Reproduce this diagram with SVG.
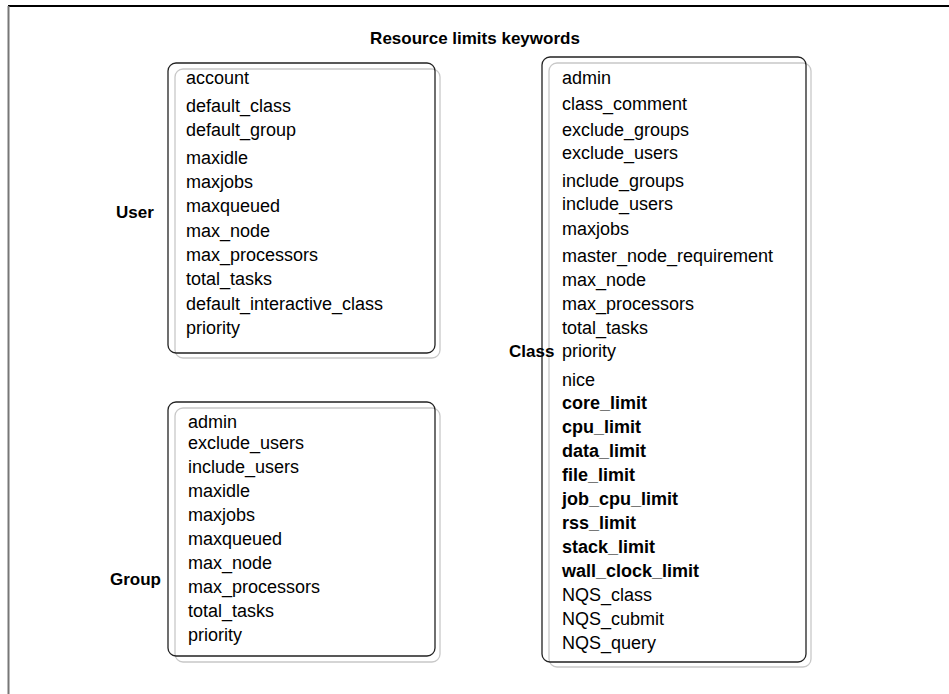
<svg xmlns="http://www.w3.org/2000/svg" width="949" height="694" viewBox="0 0 949 694">
  <style>
    .frame-top { stroke: #000; stroke-width: 2; }
    .frame-left { stroke: #777; stroke-width: 2; }
    .box { fill: none; stroke: #222; stroke-width: 1.3; }
    .shadow { fill: none; stroke: #c8c8c8; stroke-width: 1.3; }
    .title { font-family: "Liberation Sans", Arial, sans-serif; font-size: 17px; font-weight: bold; fill: #000; }
    .label { font-family: "Liberation Sans", Arial, sans-serif; font-size: 17px; font-weight: bold; fill: #000; }
    .item { font-family: "Liberation Sans", Arial, sans-serif; font-size: 18px; fill: #000; }
    .item-b { font-weight: bold; }
  </style>

  <rect width="949" height="694" fill="#fff"/>

  <!-- page frame -->
  <line class="frame-top" x1="8" y1="6" x2="949" y2="6"/>
  <line class="frame-left" x1="8.5" y1="6" x2="8.5" y2="694"/>

  <text class="title" x="475" y="44" text-anchor="middle">Resource limits keywords</text>

  <!-- User keywords -->
  <g id="user">
    <rect class="shadow" x="175" y="69" width="265" height="289" rx="8"/>
    <rect class="box" x="168" y="63" width="267" height="290" rx="8"/>
    <text class="label" x="116" y="218">User</text>
    <text class="item" x="186" y="84">account</text>
    <text class="item" x="186" y="112">default_class</text>
    <text class="item" x="186" y="136">default_group</text>
    <text class="item" x="186" y="164">maxidle</text>
    <text class="item" x="186" y="188">maxjobs</text>
    <text class="item" x="186" y="212">maxqueued</text>
    <text class="item" x="186" y="237">max_node</text>
    <text class="item" x="186" y="261">max_processors</text>
    <text class="item" x="186" y="285">total_tasks</text>
    <text class="item" x="186" y="310">default_interactive_class</text>
    <text class="item" x="186" y="334">priority</text>
  </g>

  <!-- Group keywords -->
  <g id="group">
    <rect class="shadow" x="175" y="408" width="265" height="254" rx="8"/>
    <rect class="box" x="168" y="402" width="267" height="254" rx="8"/>
    <text class="label" x="110" y="585">Group</text>
    <text class="item" x="188" y="428">admin</text>
    <text class="item" x="188" y="449">exclude_users</text>
    <text class="item" x="188" y="473">include_users</text>
    <text class="item" x="188" y="497">maxidle</text>
    <text class="item" x="188" y="521">maxjobs</text>
    <text class="item" x="188" y="545">maxqueued</text>
    <text class="item" x="188" y="569">max_node</text>
    <text class="item" x="188" y="593">max_processors</text>
    <text class="item" x="188" y="617">total_tasks</text>
    <text class="item" x="188" y="641">priority</text>
  </g>

  <!-- Class keywords -->
  <g id="class">
    <rect class="shadow" x="549" y="63" width="262" height="604" rx="8"/>
    <rect class="box" x="542" y="57" width="264" height="605" rx="8"/>
    <text class="label" x="509" y="357">Class</text>
    <text class="item" x="562" y="84">admin</text>
    <text class="item" x="562" y="110">class_comment</text>
    <text class="item" x="562" y="136">exclude_groups</text>
    <text class="item" x="562" y="159">exclude_users</text>
    <text class="item" x="562" y="187">include_groups</text>
    <text class="item" x="562" y="210">include_users</text>
    <text class="item" x="562" y="235">maxjobs</text>
    <text class="item" x="562" y="262">master_node_requirement</text>
    <text class="item" x="562" y="286">max_node</text>
    <text class="item" x="562" y="310">max_processors</text>
    <text class="item" x="562" y="334">total_tasks</text>
    <text class="item" x="562" y="357">priority</text>
    <text class="item" x="562" y="386">nice</text>
    <text class="item item-b" x="562" y="409">core_limit</text>
    <text class="item item-b" x="562" y="433">cpu_limit</text>
    <text class="item item-b" x="562" y="457">data_limit</text>
    <text class="item item-b" x="562" y="481">file_limit</text>
    <text class="item item-b" x="562" y="505">job_cpu_limit</text>
    <text class="item item-b" x="562" y="529">rss_limit</text>
    <text class="item item-b" x="562" y="553">stack_limit</text>
    <text class="item item-b" x="562" y="577">wall_clock_limit</text>
    <text class="item" x="562" y="601">NQS_class</text>
    <text class="item" x="562" y="625">NQS_cubmit</text>
    <text class="item" x="562" y="649">NQS_query</text>
  </g>
</svg>
